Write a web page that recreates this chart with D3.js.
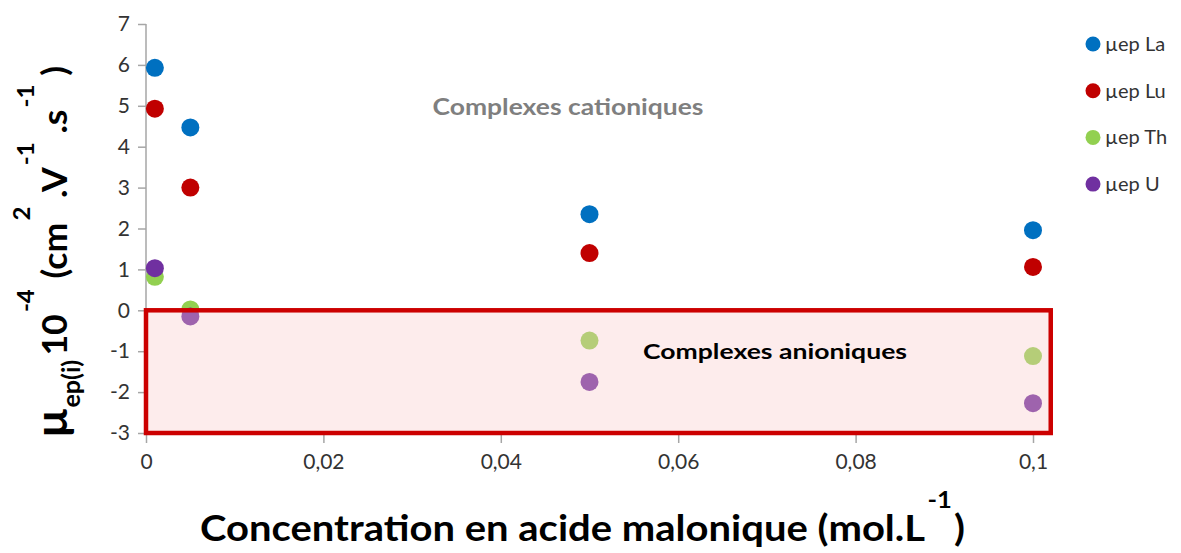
<!DOCTYPE html>
<html>
<head>
<meta charset="utf-8">
<script src="https://cdn.jsdelivr.net/npm/d3@7"></script>
<style>
  html, body { margin: 0; padding: 0; background: #fff; }
  svg { display: block; }
</style>
</head>
<body>
<svg id="chart" width="1181" height="553"></svg>
<script>
// Malonic acid concentration (mol/L)
const concentrations = [0.001, 0.005, 0.05, 0.1];
// Electrophoretic mobilities (10^-4 cm2 V-1 s-1)
const muLa = [5.93, 4.47, 2.35, 1.96];
const muLu = [4.93, 3.00, 1.40, 1.06];
const muTh = [0.82, 0.02, -0.74, -1.12];
const muU  = [1.03, -0.15, -1.75, -2.27];

const seriesNames = ["µep La", "µep Lu", "µep Th", "µep U"];
const seriesColors = ["#0070c0", "#c00000", "#92d050", "#7030a0"];
const seriesValues = [muLa, muLu, muTh, muU];

const xTicks = [0, 0.02, 0.04, 0.06, 0.08, 0.1];
const xTickLabels = ["0", "0,02", "0,04", "0,06", "0,08", "0,1"];
const yTicks = [-3, -2, -1, 0, 1, 2, 3, 4, 5, 6, 7];

// Region of negative mobilities (anionic complexes)
const anionicX = [0, 0.102];
const anionicY = [-3, 0];

const svg = d3.select("#chart");
const fontMain = "Lato, 'Open Sans', sans-serif";

const x = d3.scaleLinear().domain([0, 0.1]).range([146, 1033]);
const y = d3.scaleLinear().domain([-3, 7]).range([433, 24]);

// Axes
const axisColor = "#a6a6a6";
const yAxis = svg.append("g")
  .attr("transform", `translate(${x(0)},0)`)
  .call(d3.axisLeft(y).tickValues(yTicks).tickSize(8).tickPadding(8).tickFormat(d => d));
const xAxis = svg.append("g")
  .attr("transform", `translate(0,${y(-3)})`)
  .call(d3.axisBottom(x).tickValues(xTicks).tickSize(10).tickPadding(11)
    .tickFormat((d, i) => xTickLabels[i]));
[yAxis, xAxis].forEach(g => {
  g.select(".domain").attr("stroke", axisColor).attr("stroke-width", 1.5);
  g.selectAll(".tick line").attr("stroke", axisColor).attr("stroke-width", 1.5);
  g.selectAll(".tick text")
    .attr("fill", "#333")
    .style("font-family", fontMain)
    .style("font-size", "21px");
});
yAxis.select(".domain").attr("d", `M0,${y(7)}V${y(-3)}`);
xAxis.select(".domain").attr("d", `M${x(0)},0H${x(0.1)}`);

// Data points
const points = [];
seriesValues.forEach((vals, s) => {
  vals.forEach((v, i) => points.push({ s, c: concentrations[i], v }));
});
svg.append("g").selectAll("circle")
  .data(points)
  .join("circle")
  .attr("cx", d => x(d.c))
  .attr("cy", d => y(d.v))
  .attr("r", 9)
  .attr("fill", d => seriesColors[d.s]);

// Anionic region box, drawn over the points with a translucent tint
svg.append("rect")
  .attr("x", x(anionicX[0]))
  .attr("y", y(anionicY[1]))
  .attr("width", x(anionicX[1]) - x(anionicX[0]))
  .attr("height", y(anionicY[0]) - y(anionicY[1]))
  .attr("fill", "rgb(249,200,200)")
  .attr("fill-opacity", 0.34)
  .attr("stroke", "#cc0000")
  .attr("stroke-width", 4.5);

// Region labels
svg.append("text")
  .attr("x", 568).attr("y", 115)
  .attr("text-anchor", "middle")
  .attr("fill", "#7f7f7f")
  .style("font-family", fontMain).style("font-weight", "bold").style("font-size", "22px")
  .attr("textLength", 271).attr("lengthAdjust", "spacingAndGlyphs")
  .text("Complexes cationiques");
svg.append("text")
  .attr("x", 775).attr("y", 359)
  .attr("text-anchor", "middle")
  .attr("fill", "#000")
  .style("font-family", fontMain).style("font-weight", "bold").style("font-size", "21px")
  .attr("textLength", 264).attr("lengthAdjust", "spacingAndGlyphs")
  .text("Complexes anioniques");

// Legend
const legend = svg.append("g");
seriesNames.forEach((name, i) => {
  const cy = 44 + i * 46.7;
  legend.append("circle").attr("cx", 1093).attr("cy", cy).attr("r", 7.5).attr("fill", seriesColors[i]);
  legend.append("text")
    .attr("x", 1105).attr("y", cy + 7)
    .attr("fill", "#333")
    .style("font-family", fontMain).style("font-size", "20px")
    .text(name);
});

// Flowing title with superscripts/subscripts, scaled along its run to a target length
function flowTitle(g, pieces, targetLength) {
  const t = g.append("text")
    .style("font-family", fontMain).style("font-weight", "bold").attr("fill", "#000");
  let pos = 0;
  const nodes = pieces.map(p => {
    const node = t.append("tspan")
      .attr("y", p.shift)
      .style("font-size", p.size + "px")
      .text(p.t);
    return { node, p };
  });
  nodes.forEach(({ node, p }) => {
    node.attr("x", pos + (p.dx || 0));
    pos += node.node().getComputedTextLength() + (p.dx || 0);
  });
  const k = targetLength / pos;
  t.attr("transform", `scale(${k},1)`);
  return t;
}

// X-axis title
const xt = svg.append("g").attr("transform", "translate(200,541)");
flowTitle(xt, [
  { t: "Concentration en acide malonique (mol.L", size: 36, shift: 0 },
  { t: "-1", size: 23, shift: -33, dx: 2 },
  { t: ")", size: 36, shift: 0, dx: 2 }
], 765);

// Y-axis title, rotated
const yt = svg.append("g").attr("transform", "translate(67,438) rotate(-90)");
flowTitle(yt, [
  { t: "µ", size: 44, shift: 0 },
  { t: "ep(i)", size: 24, shift: 13 },
  { t: "10", size: 34, shift: 0, dx: 4 },
  { t: "-4", size: 23, shift: -33, dx: 2 },
  { t: " (cm", size: 34, shift: 0, dx: 2 },
  { t: "2", size: 23, shift: -37, dx: 2 },
  { t: " .V", size: 34, shift: 0 },
  { t: "-1", size: 23, shift: -33, dx: 2 },
  { t: " .s", size: 34, shift: 0 },
  { t: "-1", size: 23, shift: -33, dx: 2 },
  { t: " )", size: 34, shift: 0 }
], 372);
</script>
</body>
</html>
